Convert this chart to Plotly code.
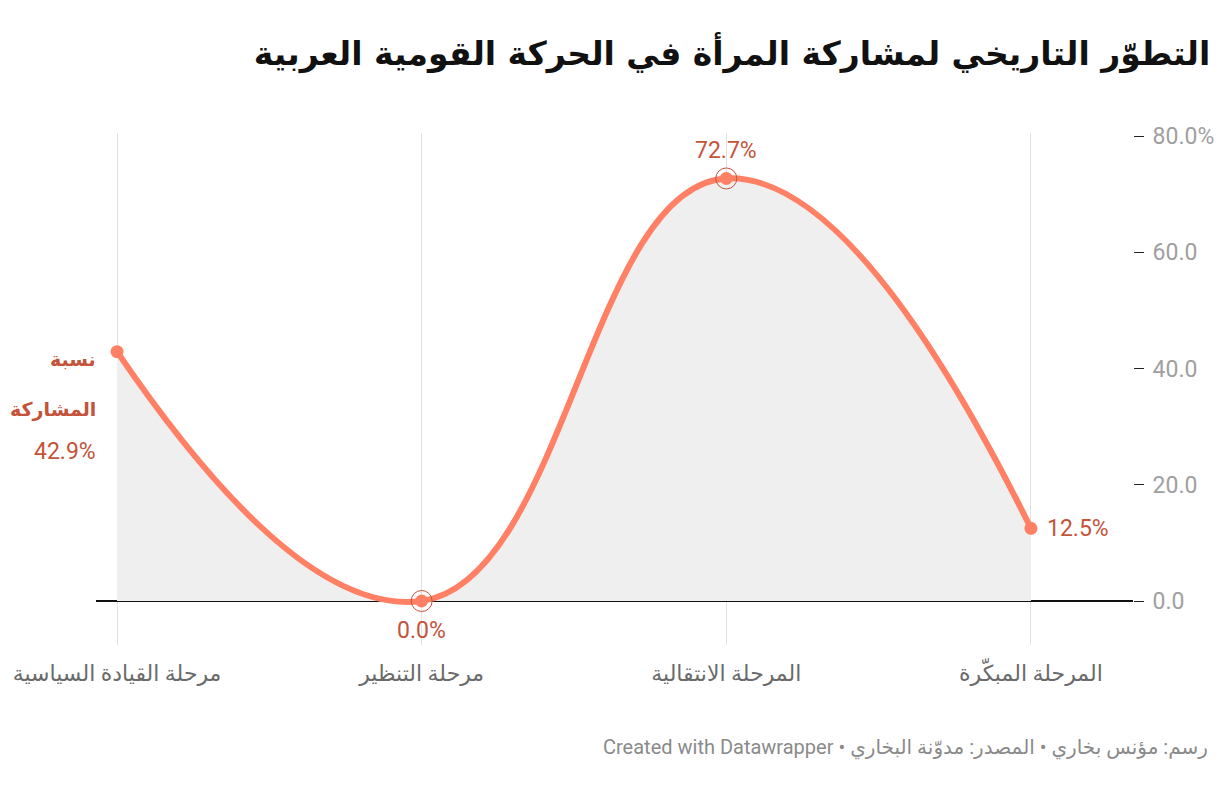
import plotly.graph_objects as go

# ---- data ----
categories = ["المرحلة المبكّرة", "المرحلة الانتقالية", "مرحلة التنظير", "مرحلة القيادة السياسية"]
values = [12.5, 72.7, 0.0, 42.9]
series_name = "نسبة المشاركة"
y_tickvals = [0, 20, 40, 60, 80]
y_ticktext = ["0.0", "20.0", "40.0", "60.0", "80.0%"]
highlight_idx = [1, 2]

title = "التطوّر التاريخي لمشاركة المرأة في الحركة القومية العربية"
footer = "رسم: مؤنس بخاري • المصدر: مدوّنة البخاري • Created with Datawrapper"

LINE = "#ff8064"
LABEL = "#c4533b"
FONT = "Roboto, 'Noto Sans', 'DejaVu Sans', sans-serif"

xpos = list(range(len(categories)))

fig = go.Figure()
fig.add_trace(go.Scatter(
    x=xpos, y=values, mode="lines+markers",
    line=dict(color=LINE, width=6, shape="spline", smoothing=1.3),
    marker=dict(color=LINE, size=13),
    fill="tozeroy", fillcolor="#efefef",
    hoverinfo="skip", showlegend=False, cliponaxis=False,
))
fig.add_trace(go.Scatter(
    x=[xpos[i] for i in highlight_idx], y=[values[i] for i in highlight_idx],
    mode="markers",
    marker=dict(symbol="circle-open", size=21, color=LABEL, line=dict(width=1, color=LABEL)),
    hoverinfo="skip", showlegend=False, cliponaxis=False,
))

LS = 23
ann = []
ann.append(dict(x=xpos[0], y=values[0], text=f"{values[0]:.1f}%", xanchor="left", yanchor="middle",
                xshift=14, showarrow=False, font=dict(size=LS, color=LABEL, family=FONT)))
ann.append(dict(x=xpos[1], y=values[1], text=f"{values[1]:.1f}%", xanchor="center", yanchor="bottom",
                yshift=12, showarrow=False, font=dict(size=LS, color=LABEL, family=FONT)))
ann.append(dict(x=xpos[2], y=values[2], text=f"{values[2]:.1f}%", xanchor="center", yanchor="top",
                yshift=-14, showarrow=False, font=dict(size=LS, color=LABEL, family=FONT)))
name_parts = series_name.split(" ")
for part, ys in zip(name_parts, [-8, -58]):
    ann.append(dict(x=xpos[3], y=values[3], text=f"<b>{part}</b>", xanchor="right", yanchor="middle",
                    xshift=-19, yshift=ys, showarrow=False, font=dict(size=19, color=LABEL, family=FONT)))
ann.append(dict(x=xpos[3], y=values[3], text=f"{values[3]:.1f}%", xanchor="right", yanchor="middle",
                xshift=-19, yshift=-100, showarrow=False, font=dict(size=LS, color=LABEL, family=FONT)))

ann.append(dict(xref="paper", yref="paper", x=1.0743, y=-0.2, xanchor="right", yanchor="middle",
                text="\u202b" + footer + "\u202c", showarrow=False,
                font=dict(size=20, color="#8a8a8a", family=FONT)))

fig.update_layout(
    width=1220, height=786,
    margin=dict(l=96, r=87, t=133, b=141, autoexpand=False),
    paper_bgcolor="white", plot_bgcolor="white",
    font=dict(family=FONT),
    title=dict(text=f"<b>{title}</b>", x=0.992, xanchor="right", y=0.932, yanchor="middle",
               font=dict(size=33, color="#111", family="'DejaVu Sans', sans-serif")),
    annotations=ann,
    xaxis=dict(range=[3.069, -0.335], tickvals=xpos, ticktext=categories,
               showgrid=True, gridcolor="#e2e2e2", gridwidth=1, zeroline=False,
               showline=False, ticks="", ticklabelstandoff=13, automargin=False,
               tickfont=dict(size=22, color="#6a6a6a", family=FONT), fixedrange=True),
    yaxis=dict(range=[-7.57, 80.52], side="right", tickvals=y_tickvals, ticktext=y_ticktext,
               showgrid=False, zeroline=True, zerolinecolor="#111", zerolinewidth=1.5,
               ticks="outside", ticklen=10, tickcolor="#222", tickwidth=1,
               ticklabelstandoff=4, automargin=False,
               tickfont=dict(size=23, color="#a0a0a0", family=FONT), showline=False, fixedrange=True),
)

fig.write_html("out.html", config={"displayModeBar": False},
               post_script="document.body.style.margin='0';document.body.style.overflow='hidden';")
